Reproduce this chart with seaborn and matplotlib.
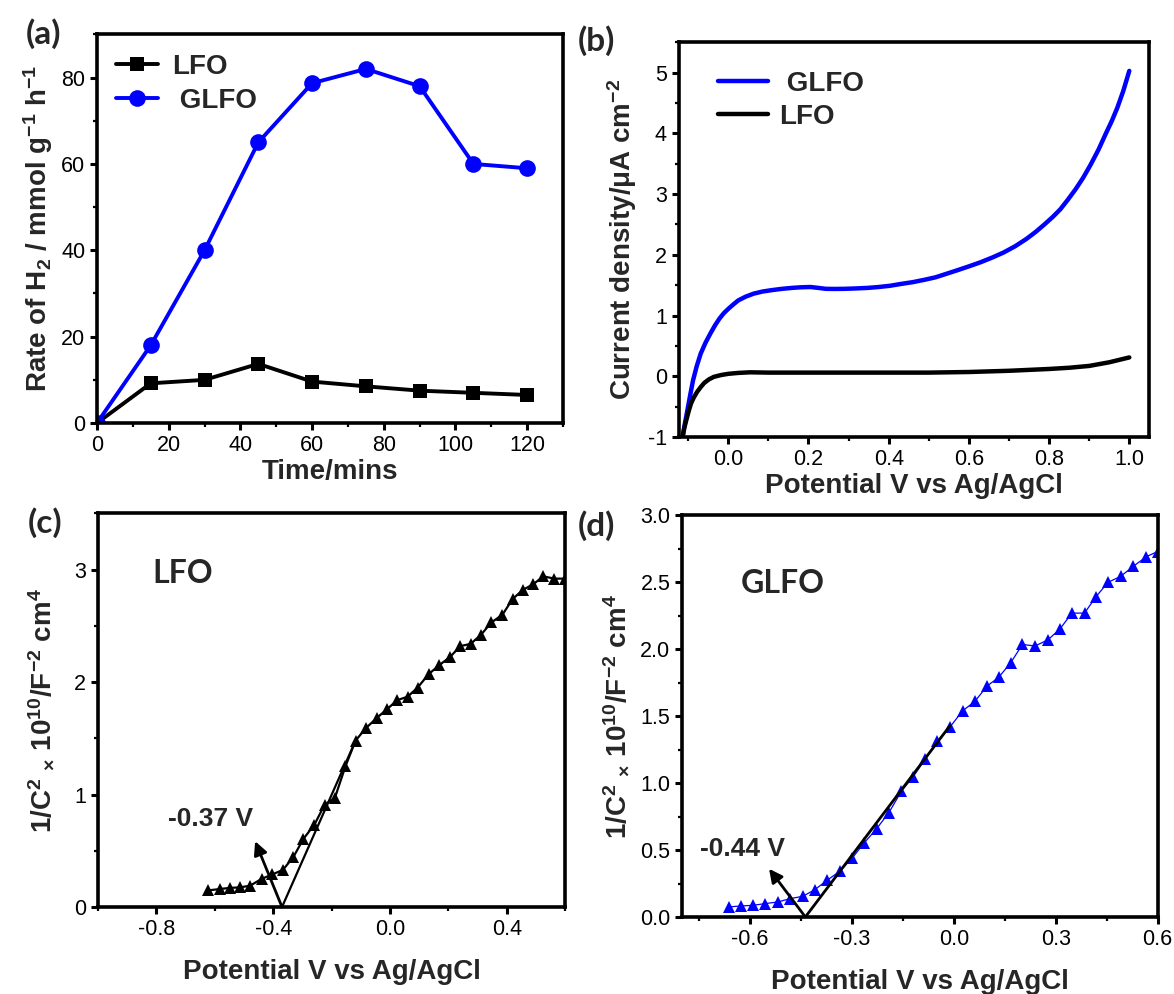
import numpy as np
import pandas as pd
import matplotlib
matplotlib.use("Agg")
import matplotlib.pyplot as plt
import seaborn as sns
from matplotlib.ticker import MultipleLocator

# ---------------- data ----------------
# (a) H2 evolution rate
time_min = [0, 15, 30, 45, 60, 75, 90, 105, 120]
lfo_rate = [0, 9.2, 10.0, 13.7, 9.6, 8.5, 7.5, 7.0, 6.5]
glfo_rate = [0, 18.0, 40.0, 65.0, 78.7, 82.0, 78.0, 60.0, 59.0]

# (b) LSV curves
glfo_lsv_v = [-0.114, -0.108, -0.102, -0.095, -0.088, -0.079, -0.069, -0.057, -0.045, -0.033,
              -0.022, -0.011, 0.0, 0.012, 0.025, 0.043, 0.063, 0.085, 0.11,
              0.134, 0.158, 0.18, 0.205, 0.225, 0.243, 0.265, 0.29, 0.32, 0.347, 0.375, 0.403,
              0.43, 0.46, 0.49, 0.517, 0.545, 0.573, 0.60, 0.63, 0.66,
              0.687, 0.715, 0.743, 0.767, 0.79, 0.81, 0.828, 0.847, 0.866, 0.885, 0.904,
              0.923, 0.941, 0.956, 0.97, 0.985, 1.0]
glfo_lsv_j = [-1.0, -0.77, -0.56, -0.31, -0.07, 0.16, 0.37, 0.55, 0.70, 0.84,
              0.95, 1.04, 1.11, 1.18, 1.25, 1.31, 1.36, 1.395, 1.42,
              1.44, 1.455, 1.465, 1.47, 1.455, 1.44, 1.438, 1.44, 1.447, 1.455, 1.47, 1.49,
              1.52, 1.55, 1.59, 1.63, 1.69, 1.75, 1.81, 1.88, 1.96,
              2.04, 2.14, 2.26, 2.38, 2.51, 2.63, 2.75, 2.91, 3.08, 3.27, 3.49,
              3.73, 3.99, 4.20, 4.42, 4.70, 5.03]
lfo_lsv_v = [-0.114, -0.11, -0.105, -0.099, -0.093, -0.086, -0.078, -0.069, -0.06, -0.048,
             -0.036, -0.018, 0.0, 0.025, 0.054, 0.1, 0.2,
             0.3, 0.4, 0.5, 0.6, 0.65, 0.7, 0.75, 0.8, 0.85, 0.9, 0.95, 1.0]
lfo_lsv_j = [-1.0, -0.86, -0.73, -0.58, -0.45, -0.35, -0.26, -0.18, -0.11, -0.05,
             -0.01, 0.02, 0.04, 0.055, 0.065, 0.06, 0.06,
             0.06, 0.06, 0.06, 0.07, 0.08, 0.09, 0.105, 0.12, 0.14, 0.17, 0.23, 0.31]

# (c) Mott-Schottky LFO
lfo_ms_v = [-0.622, -0.583, -0.549, -0.513, -0.479, -0.44, -0.403, -0.367, -0.331, -0.297,
            -0.259, -0.224, -0.189, -0.153, -0.118, -0.083, -0.046, -0.01, 0.025, 0.06,
            0.094, 0.132, 0.168, 0.204, 0.241, 0.276, 0.311, 0.347, 0.385, 0.42,
            0.455, 0.49, 0.525, 0.563, 0.599]
lfo_ms_c = [0.148, 0.16, 0.17, 0.175, 0.19, 0.25, 0.29, 0.33, 0.445, 0.605,
            0.733, 0.91, 0.97, 1.25, 1.48, 1.59, 1.68, 1.76, 1.84, 1.87,
            1.95, 2.07, 2.15, 2.22, 2.32, 2.34, 2.42, 2.53, 2.60, 2.74,
            2.82, 2.87, 2.94, 2.92, 2.92]
lfo_fit_v = [-0.37, -0.118]
lfo_fit_c = [0.0, 1.48]
lfo_vfb = -0.37

# (d) Mott-Schottky GLFO
glfo_ms_v = [-0.662, -0.628, -0.591, -0.555, -0.518, -0.482, -0.445, -0.409, -0.373, -0.336,
             -0.299, -0.264, -0.227, -0.191, -0.154, -0.12, -0.084, -0.048, -0.011, 0.026,
             0.062, 0.098, 0.132, 0.168, 0.202, 0.239, 0.277, 0.312, 0.348, 0.385,
             0.418, 0.454, 0.491, 0.529, 0.566, 0.6]
glfo_ms_c = [0.075, 0.082, 0.087, 0.10, 0.112, 0.137, 0.154, 0.204, 0.274, 0.341,
             0.44, 0.553, 0.66, 0.78, 0.94, 1.046, 1.18, 1.314, 1.42, 1.54,
             1.61, 1.725, 1.79, 1.90, 2.036, 2.024, 2.07, 2.15, 2.27, 2.27,
             2.39, 2.50, 2.544, 2.62, 2.69, 2.73]
glfo_fit_v = [-0.437, -0.011]
glfo_fit_c = [0.0, 1.43]
glfo_vfb = -0.44

BLUE = "#0000FF"

# ---------------- style ----------------
sns.set_theme(style="ticks")
plt.rcParams.update({
    "font.family": ["Liberation Sans", "DejaVu Sans"],
    "mathtext.default": "regular",
    "axes.linewidth": 2.6,
    "axes.edgecolor": "black",
    "xtick.direction": "out",
    "ytick.direction": "out",
    "xtick.major.size": 5,
    "ytick.major.size": 5,
    "xtick.minor.size": 3,
    "ytick.minor.size": 3,
    "xtick.major.width": 2.2,
    "ytick.major.width": 2.2,
    "xtick.minor.width": 1.6,
    "ytick.minor.width": 1.6,
    "xtick.labelsize": 15.5,
    "ytick.labelsize": 15.5,
    "xtick.color": "black",
    "ytick.color": "black",
})

fig = plt.figure(figsize=(11.74, 9.94), dpi=100)
ax_a = fig.add_axes([0.0826, 0.5744, 0.397, 0.391])
ax_b = fig.add_axes([0.578, 0.5604, 0.401, 0.397])
ax_c = fig.add_axes([0.0835, 0.0875, 0.398, 0.396])
ax_d = fig.add_axes([0.581, 0.0775, 0.405, 0.404])

LBL = dict(fontsize=20, fontweight="bold")

# ---------------- (a) ----------------
df_a = pd.DataFrame({"t": time_min, "LFO": lfo_rate, "GLFO": glfo_rate})
sns.lineplot(data=df_a, x="t", y="LFO", ax=ax_a, color="black", marker="s",
             markersize=10, markeredgewidth=0, linewidth=2.8, label="LFO")
sns.lineplot(data=df_a, x="t", y="GLFO", ax=ax_a, color=BLUE, marker="o",
             markersize=12, markeredgewidth=0, linewidth=2.8, label=" GLFO")
ax_a.set_xlim(0, 130)
ax_a.set_ylim(0, 90)
ax_a.xaxis.set_major_locator(MultipleLocator(20))
ax_a.xaxis.set_minor_locator(MultipleLocator(10))
ax_a.yaxis.set_minor_locator(MultipleLocator(10))
ax_a.set_yticks([0, 20, 40, 60, 80])
ax_a.set_xlabel("Time/mins", labelpad=2, **LBL)
ax_a.set_ylabel("Rate of H$_2$ / mmol g$^{-1}$ h$^{-1}$", labelpad=4, **LBL)
ax_a.legend(loc="upper left", frameon=False, handlelength=1.5,
            handletextpad=0.5, borderaxespad=0.3, labelspacing=0.3,
            prop={"size": 20, "weight": "bold"})

# ---------------- (b) ----------------
sns.lineplot(x=glfo_lsv_v, y=glfo_lsv_j, ax=ax_b, color=BLUE, linewidth=3.2,
             label=" GLFO")
sns.lineplot(x=lfo_lsv_v, y=lfo_lsv_j, ax=ax_b, color="black", linewidth=3.2,
             label="LFO")
ax_b.set_xlim(-0.124, 1.05)
ax_b.set_ylim(-1, 5.5)
ax_b.set_xticks([0.0, 0.2, 0.4, 0.6, 0.8, 1.0])
ax_b.set_xticklabels(["0.0", "0.2", "0.4", "0.6", "0.8", "1.0"])
ax_b.xaxis.set_minor_locator(MultipleLocator(0.1))
ax_b.set_yticks([-1, 0, 1, 2, 3, 4, 5])
ax_b.set_yticklabels(["-1", "0", "1", "2", "3", "4", "5"])
ax_b.yaxis.set_minor_locator(MultipleLocator(0.5))
ax_b.set_xlabel("Potential V vs Ag/AgCl", labelpad=2, **LBL)
ax_b.set_ylabel("Current density/\u03bcA cm$^{-2}$", labelpad=6, **LBL)
ax_b.legend(loc="upper left", frameon=False, handlelength=1.8,
            handletextpad=0.4, borderaxespad=0.0, labelspacing=0.25,
            bbox_to_anchor=(0.06, 0.955),
            prop={"size": 20, "weight": "bold"})

# ---------------- (c) ----------------
sns.lineplot(x=lfo_ms_v, y=lfo_ms_c, ax=ax_c, color="black", linewidth=1.6,
             marker="^", markersize=8, markeredgewidth=0)
sns.lineplot(x=lfo_fit_v, y=lfo_fit_c, ax=ax_c, color="black", linewidth=1.6)
ax_c.annotate("", xy=(-0.462, 0.585), xytext=(lfo_vfb, 0.0),
              arrowprops=dict(arrowstyle="-|>", color="black", lw=2,
                              mutation_scale=20, shrinkA=0, shrinkB=0))
ax_c.text(-0.76, 0.78, "-0.37 V", fontsize=19, fontweight="bold", va="center", ha="left")
ax_c.text(-0.815, 2.97, "LFO", fontsize=23, fontweight="bold", va="center", ha="left",
          family="Lato")
ax_c.set_xlim(-1.0, 0.6)
ax_c.set_ylim(0, 3.5)
ax_c.set_xticks([-0.8, -0.4, 0.0, 0.4])
ax_c.set_xticklabels(["-0.8", "-0.4", "0.0", "0.4"])
ax_c.xaxis.set_minor_locator(MultipleLocator(0.2))
ax_c.set_yticks([0, 1, 2, 3])
ax_c.yaxis.set_minor_locator(MultipleLocator(0.5))
ax_c.set_xlabel("Potential V vs Ag/AgCl", labelpad=14, **LBL)
ax_c.set_ylabel("1/C$^2$ $_\u00d7$ 10$^{10}$/F$^{-2}$ cm$^4$", labelpad=12, **LBL)

# ---------------- (d) ----------------
sns.lineplot(x=glfo_ms_v, y=glfo_ms_c, ax=ax_d, color=BLUE, linewidth=0.9,
             marker="^", markersize=9, markeredgewidth=0)
sns.lineplot(x=glfo_fit_v, y=glfo_fit_c, ax=ax_d, color="black", linewidth=2)
ax_d.annotate("", xy=(-0.544, 0.36), xytext=(glfo_vfb + 0.003, 0.0),
              arrowprops=dict(arrowstyle="-|>", color="black", lw=2,
                              mutation_scale=20, shrinkA=0, shrinkB=0))
ax_d.text(-0.748, 0.51, "-0.44 V", fontsize=19, fontweight="bold", va="center", ha="left")
ax_d.text(-0.628, 2.49, "GLFO", fontsize=23, fontweight="bold", va="center", ha="left",
          family="Lato")
ax_d.set_xlim(-0.8, 0.6)
ax_d.set_ylim(0, 3.0)
ax_d.set_xticks([-0.6, -0.3, 0.0, 0.3, 0.6])
ax_d.set_xticklabels(["-0.6", "-0.3", "0.0", "0.3", "0.6"])
ax_d.xaxis.set_minor_locator(MultipleLocator(0.15))
ax_d.set_yticks([0.0, 0.5, 1.0, 1.5, 2.0, 2.5, 3.0])
ax_d.set_yticklabels(["0.0", "0.5", "1.0", "1.5", "2.0", "2.5", "3.0"])
ax_d.yaxis.set_minor_locator(MultipleLocator(0.25))
ax_d.set_xlabel("Potential V vs Ag/AgCl", labelpad=14, **LBL)
ax_d.set_ylabel("1/C$^2$ $_\u00d7$ 10$^{10}$/F$^{-2}$ cm$^4$", labelpad=6, **LBL)

for ax in (ax_a, ax_b, ax_c, ax_d):
    for s in ax.spines.values():
        s.set_visible(True)
        s.set_linewidth(2.6)
    ax.tick_params(which="both", top=False, right=False)

# panel labels
PL = dict(fontsize=24, fontweight="bold", family="Lato", va="center", ha="left")
fig.text(0.022, 0.966, "(a)", **PL)
fig.text(0.492, 0.959, "(b)", **PL)
fig.text(0.024, 0.474, "(c)", **PL)
fig.text(0.492, 0.471, "(d)", **PL)

fig.savefig("out.png", dpi=100)
